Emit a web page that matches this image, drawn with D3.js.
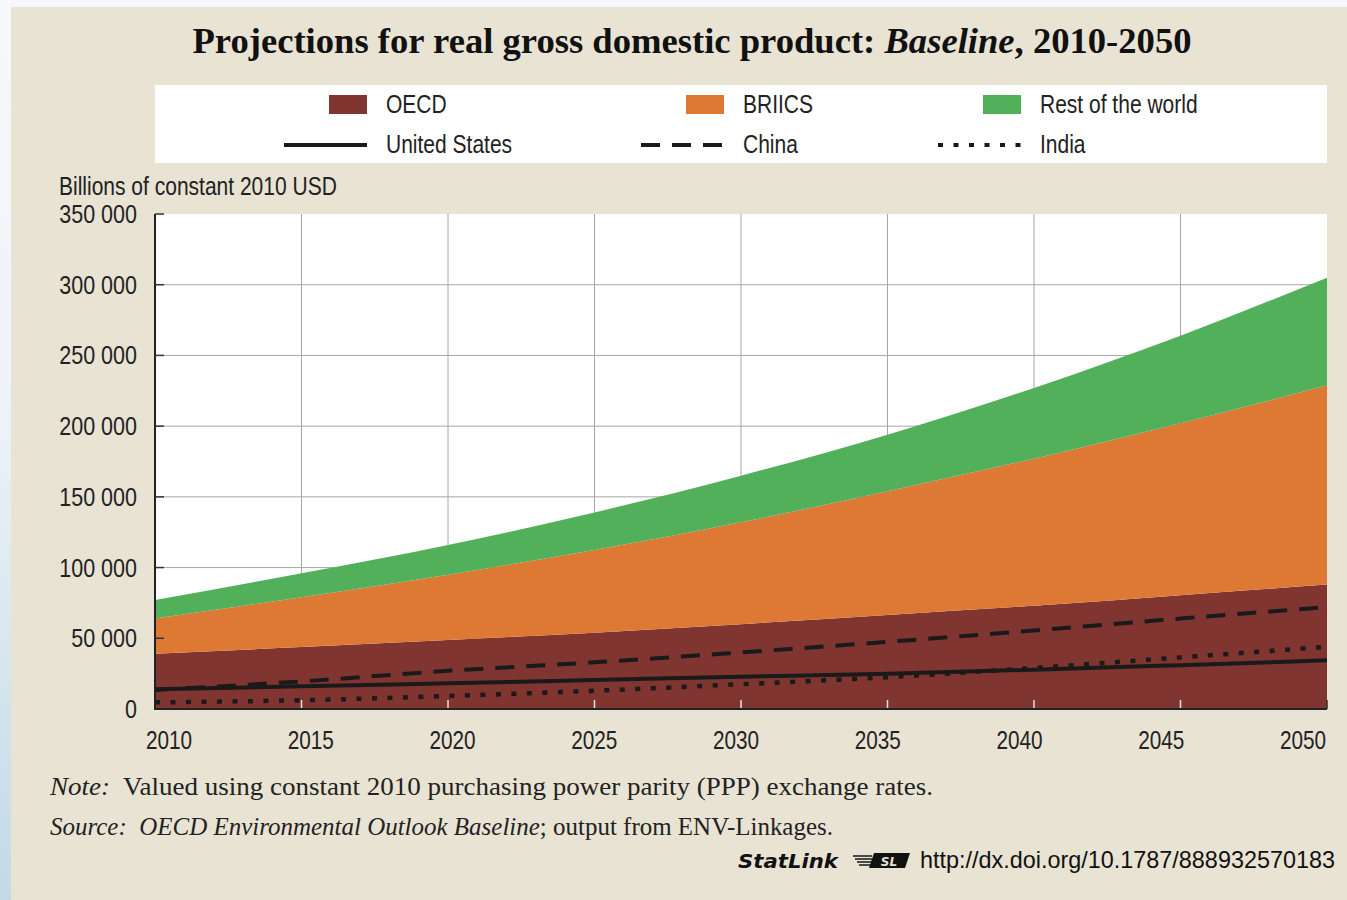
<!DOCTYPE html>
<html>
<head>
<meta charset="utf-8">
<script src="https://cdn.jsdelivr.net/npm/d3@7"></script>
<style>
  html, body { margin: 0; padding: 0; background: #f6f7fb; }
  svg { display: block; }
  .cond { font-family: "Liberation Sans Narrow", "Arial Narrow", "Liberation Sans", sans-serif; }
  .serif { font-family: "Liberation Serif", "DejaVu Serif", serif; }
</style>
</head>
<body>
<svg id="chart" width="1347" height="900"></svg>
<script>
// ---------- DATA ----------
const years = [2010, 2015, 2020, 2025, 2030, 2035, 2040, 2045, 2050];
const oecd = [39000, 43800, 48800, 54000, 60000, 66500, 73000, 80500, 88000];
const briics = [25000, 35200, 46200, 58500, 72000, 87500, 104000, 121500, 141000];
const restOfWorld = [13000, 17000, 21000, 26500, 33000, 40000, 50000, 62000, 76000];
const unitedStates = [14000, 16000, 18200, 20500, 22800, 25000, 27800, 31000, 34400];
const china = [13500, 19500, 27000, 33000, 40000, 47500, 55500, 64000, 72000];
const india = [4700, 6200, 9200, 12900, 17500, 22500, 29000, 36500, 44000];
const yTicks = [0, 50000, 100000, 150000, 200000, 250000, 300000, 350000];
const yTickLabels = ["0", "50 000", "100 000", "150 000", "200 000", "250 000", "300 000", "350 000"];
const xTicks = [2010, 2015, 2020, 2025, 2030, 2035, 2040, 2045, 2050];
const xTickLabels = ["2010", "2015", "2020", "2025", "2030", "2035", "2040", "2045", "2050"];
const areaKeys = ["OECD", "BRIICS", "Rest of the world"];
const areaColors = ["#803530", "#de7935", "#52b05a"];
const lineNames = ["United States", "China", "India"];

// ---------- SETUP ----------
const svg = d3.select("#chart");
const defs = svg.append("defs");
const grad = defs.append("linearGradient").attr("id", "leftGrad")
  .attr("x1", 0).attr("y1", 0).attr("x2", 0).attr("y2", 1);
grad.append("stop").attr("offset", "0%").attr("stop-color", "#f7f9fc");
grad.append("stop").attr("offset", "45%").attr("stop-color", "#eef3f7");
grad.append("stop").attr("offset", "100%").attr("stop-color", "#c2d9e6");

svg.append("rect").attr("x", 0).attr("y", 0).attr("width", 1347).attr("height", 900).attr("fill", "#f6f7fb");
svg.append("rect").attr("x", 0).attr("y", 0).attr("width", 11).attr("height", 900).attr("fill", "url(#leftGrad)");
svg.append("rect").attr("x", 11).attr("y", 7).attr("width", 1336).attr("height", 893).attr("fill", "#e8e3d3");

const pLeft = 155, pRight = 1327, pTop = 214, pBottom = 709;
const x = d3.scaleLinear().domain([2010, 2050]).range([pLeft, pRight]);
const y = d3.scaleLinear().domain([0, 350000]).range([pBottom, pTop]);
const xLabelPos = d3.scalePoint().domain(xTickLabels).range([169, 1303]);

// narrow the sans text horizontally (no condensed face installed)
function condense(sel, f) {
  sel.each(function () {
    const w = this.getComputedTextLength();
    d3.select(this).attr("textLength", w * f).attr("lengthAdjust", "spacingAndGlyphs");
  });
}
const CF = 0.84;

// Title
const title = svg.append("text")
  .attr("class", "serif")
  .attr("x", 692).attr("y", 53)
  .attr("text-anchor", "middle")
  .attr("font-size", 35).attr("font-weight", "bold").attr("fill", "#111")
  .attr("textLength", 999).attr("lengthAdjust", "spacingAndGlyphs");
title.append("tspan").text("Projections for real gross domestic product: ");
title.append("tspan").attr("font-style", "italic").text("Baseline");
title.append("tspan").text(", 2010-2050");

// Legend
svg.append("rect").attr("x", 155).attr("y", 85).attr("width", 1172).attr("height", 78).attr("fill", "#ffffff");
const legX = [329, 686, 983];
areaKeys.forEach((k, i) => {
  svg.append("rect").attr("x", legX[i]).attr("y", 95).attr("width", 38).attr("height", 19).attr("fill", areaColors[i]);
  svg.append("text").attr("class", "cond").attr("x", legX[i] + 57).attr("y", 104)
    .attr("dominant-baseline", "central").attr("font-size", 25).attr("fill", "#222").text(k)
    .call(condense, CF);
});
const lineDash = ["none", "19,12", "5,10.5"];
lineNames.forEach((k, i) => {
  svg.append("line").attr("x1", legX[i] - 45).attr("x2", legX[i] + 38).attr("y1", 145).attr("y2", 145)
    .attr("stroke", "#1a1a1a").attr("stroke-width", 4).attr("stroke-dasharray", lineDash[i]);
  svg.append("text").attr("class", "cond").attr("x", legX[i] + 57).attr("y", 144)
    .attr("dominant-baseline", "central").attr("font-size", 25).attr("fill", "#222").text(k)
    .call(condense, CF);
});

// Axis title
svg.append("text").attr("class", "cond").attr("x", 59).attr("y", 195)
  .attr("font-size", 25).attr("fill", "#222").text("Billions of constant 2010 USD")
  .call(condense, CF);

// Plot background
svg.append("rect").attr("x", pLeft).attr("y", pTop).attr("width", pRight - pLeft).attr("height", pBottom - pTop).attr("fill", "#ffffff");

// Grid
svg.append("g").selectAll("line").data(xTicks.slice(1, -1)).join("line")
  .attr("x1", d => x(d)).attr("x2", d => x(d)).attr("y1", pTop).attr("y2", pBottom)
  .attr("stroke", "#a6a6a6").attr("stroke-width", 1);
svg.append("g").selectAll("line").data(yTicks.slice(1, -1)).join("line")
  .attr("x1", pLeft).attr("x2", pRight).attr("y1", d => y(d)).attr("y2", d => y(d))
  .attr("stroke", "#a6a6a6").attr("stroke-width", 1);

// Stacked areas
const tableRows = years.map((yr, i) => ({
  year: yr, "OECD": oecd[i], "BRIICS": briics[i], "Rest of the world": restOfWorld[i]
}));
const stack = d3.stack().keys(areaKeys)(tableRows);
const area = d3.area().curve(d3.curveMonotoneX)
  .x(d => x(d.data.year)).y0(d => y(d[0])).y1(d => y(d[1]));
svg.append("g").selectAll("path").data(stack).join("path")
  .attr("d", area).attr("fill", (d, i) => areaColors[i]);

// Lines
const lineSeries = [unitedStates, china, india];
const lineGen = d3.line().curve(d3.curveMonotoneX).x((d, i) => x(years[i])).y(d => y(d));
lineSeries.forEach((s, i) => {
  svg.append("path").attr("d", lineGen(s)).attr("fill", "none")
    .attr("stroke", "#1a1a1a").attr("stroke-width", i === 2 ? 4.5 : 4)
    .attr("stroke-dasharray", lineDash[i]);
});

// Axes
svg.append("line").attr("x1", pLeft).attr("x2", pLeft).attr("y1", pTop).attr("y2", pBottom + 1)
  .attr("stroke", "#222").attr("stroke-width", 2);
svg.append("line").attr("x1", pLeft).attr("x2", pRight).attr("y1", pBottom).attr("y2", pBottom)
  .attr("stroke", "#222").attr("stroke-width", 2);
svg.append("g").selectAll("line").data(yTicks.slice(1)).join("line")
  .attr("x1", pLeft).attr("x2", pLeft + 9).attr("y1", d => y(d)).attr("y2", d => y(d))
  .attr("stroke", "#333").attr("stroke-width", 1.5);
svg.append("g").selectAll("line").data(xTicks.slice(1, -1)).join("line")
  .attr("x1", d => x(d)).attr("x2", d => x(d)).attr("y1", pBottom - 1).attr("y2", pBottom - 9)
  .attr("stroke", "#e8e0dc").attr("stroke-width", 1.5);
svg.append("line").attr("x1", pRight).attr("x2", pRight).attr("y1", pBottom).attr("y2", pBottom - 9)
  .attr("stroke", "#333").attr("stroke-width", 1.5);

// Tick labels
svg.append("g").selectAll("text").data(yTicks).join("text")
  .attr("class", "cond").attr("x", 137).attr("y", d => y(d))
  .attr("text-anchor", "end").attr("dominant-baseline", "central")
  .attr("font-size", 25).attr("fill", "#222")
  .text((d, i) => yTickLabels[i])
  .call(condense, 0.86);
svg.append("g").selectAll("text").data(xTickLabels).join("text")
  .attr("class", "cond").attr("x", d => xLabelPos(d)).attr("y", 740)
  .attr("text-anchor", "middle").attr("dominant-baseline", "central")
  .attr("font-size", 25).attr("fill", "#222").text(d => d)
  .call(condense, 0.83);

// Notes
const note = svg.append("text").attr("class", "serif").attr("x", 50).attr("y", 795)
  .attr("font-size", 26).attr("fill", "#222")
  .attr("textLength", 883).attr("lengthAdjust", "spacingAndGlyphs");
note.append("tspan").attr("font-style", "italic").text("Note:");
note.append("tspan").text("\u00a0 Valued using constant 2010 purchasing power parity (PPP) exchange rates.");

const src = svg.append("text").attr("class", "serif").attr("x", 50).attr("y", 835)
  .attr("font-size", 26).attr("fill", "#222")
  .attr("textLength", 783).attr("lengthAdjust", "spacingAndGlyphs");
src.append("tspan").attr("font-style", "italic").text("Source:\u00a0 OECD Environmental Outlook Baseline");
src.append("tspan").text("; output from ENV-Linkages.");

// StatLink
svg.append("text").attr("x", 738).attr("y", 868)
  .attr("font-family", "'DejaVu Sans', sans-serif").attr("font-style", "italic").attr("font-weight", "bold")
  .attr("font-size", 19).attr("fill", "#111")
  .attr("textLength", 100).attr("lengthAdjust", "spacingAndGlyphs").text("StatLink");
const icon = svg.append("g");
[0, 1, 2, 3].forEach(k => {
  icon.append("line").attr("x1", 853 + k * 2).attr("x2", 872).attr("y1", 856 + k * 3).attr("y2", 856 + k * 3)
    .attr("stroke", "#222").attr("stroke-width", 1.6);
});
icon.append("path").attr("d", "M874,853 L910,853 L905,868 L869,868 Z").attr("fill", "#111");
icon.append("text").attr("x", 889).attr("y", 866).attr("text-anchor", "middle")
  .attr("font-family", "'DejaVu Sans', sans-serif").attr("font-style", "italic").attr("font-weight", "bold")
  .attr("font-size", 12).attr("fill", "#e8e3d3").text("SL");
svg.append("text").attr("class", "cond").attr("x", 920).attr("y", 868)
  .attr("font-size", 24).attr("fill", "#111")
  .attr("textLength", 415).attr("lengthAdjust", "spacingAndGlyphs")
  .text("http://dx.doi.org/10.1787/888932570183");
</script>
</body>
</html>
